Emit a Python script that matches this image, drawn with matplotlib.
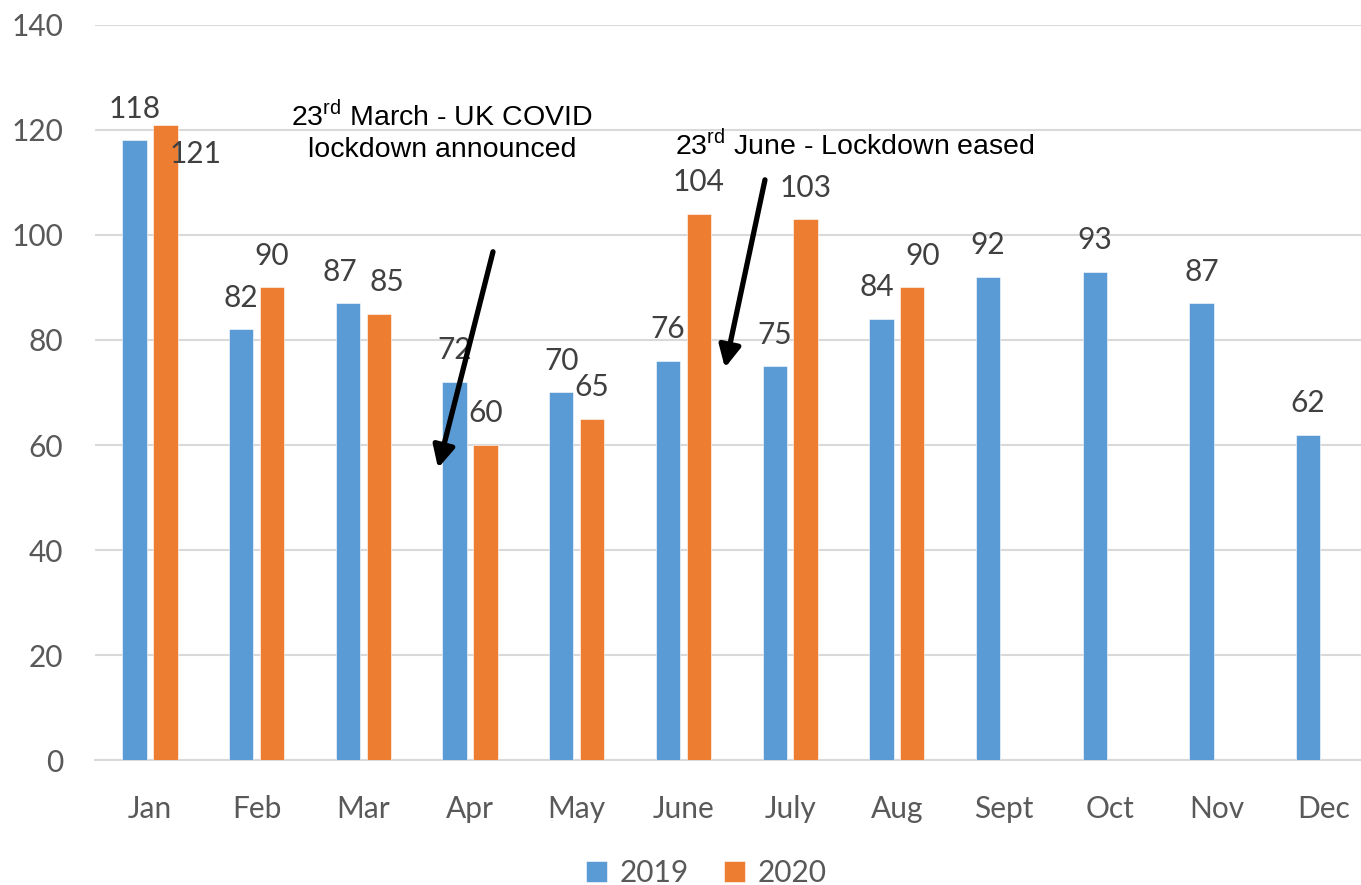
import matplotlib.pyplot as plt
import numpy as np

months = ['Jan', 'Feb', 'Mar', 'Apr', 'May', 'June', 'July', 'Aug', 'Sept', 'Oct', 'Nov', 'Dec']
y2019 = [118, 82, 87, 72, 70, 76, 75, 84, 92, 93, 87, 62]
y2020 = [121, 90, 85, 60, 65, 104, 103, 90]

note_march = ['23$^{\\mathrm{rd}}$ March - UK COVID', 'lockdown announced']
note_june = '23$^{\\mathrm{rd}}$ June - Lockdown eased'

blue = '#5B9BD5'
orange = '#ED7D31'
grey_text = '#595959'
label_text = '#404040'

plt.rcParams['font.family'] = ['Lato', 'DejaVu Sans']
plt.rcParams['mathtext.fontset'] = 'custom'
plt.rcParams['mathtext.rm'] = 'Liberation Sans'

fig = plt.figure(figsize=(13.61, 8.85), dpi=100)
ax = fig.add_axes([0.0698, 0.1412, 0.9302, 0.8306])

x = np.arange(len(months))
w = 0.228
off = 0.145
b1 = ax.bar(x - off, y2019, w, color=blue, edgecolor='white', linewidth=0.4, label='2019', zorder=3)
x20 = x[:len(y2020)]
b2 = ax.bar(x20 + off, y2020, w, color=orange, edgecolor='white', linewidth=0.4, label='2020', zorder=3)

# label nudges (x in category units, y in data units)
nudge19 = {2: (-0.075, 0), 7: (-0.047, 0)}
nudge20 = {0: (0.286, -11.5), 2: (0.075, 0), 7: (0.094, 0)}
for i, v in enumerate(y2019):
    dx, dy = nudge19.get(i, (0, 0))
    ax.text(i - off + dx, v + 6 + dy, str(v), ha='center', va='center',
            fontsize=21.5, color=label_text, zorder=4)
for i, v in enumerate(y2020):
    dx, dy = nudge20.get(i, (0, 0))
    ax.text(i + off + dx, v + 6 + dy, str(v), ha='center', va='center',
            fontsize=21.5, color=label_text, zorder=4)

ax.set_ylim(0, 140)
ax.set_xlim(-0.515, 11.35)
ax.set_yticks(range(0, 141, 20))
ax.set_xticks(x)
ax.set_xticklabels(months)
ax.tick_params(axis='both', length=0, labelsize=21.5, labelcolor=grey_text)
ax.tick_params(axis='x', pad=25)
ax.tick_params(axis='y', pad=23)
ax.grid(axis='y', color='#D9D9D9', linewidth=1.5, zorder=0)
for s in ['top', 'right', 'left']:
    ax.spines[s].set_visible(False)
ax.spines['bottom'].set_color('#D9D9D9')
ax.spines['bottom'].set_linewidth(1.5)

# annotations
ax.text(2.737, 122.5, note_march[0], ha='center', va='center', fontsize=20.5,
        family='Liberation Sans', color='black', zorder=5)
ax.text(2.737, 116.2, note_march[1], ha='center', va='center', fontsize=20.5,
        family='Liberation Sans', color='black', zorder=5)
ax.text(6.603, 117.0, note_june, ha='center', va='center', fontsize=20.5,
        family='Liberation Sans', color='black', zorder=5)

arrow_style = dict(arrowstyle='-|>,head_length=1.3,head_width=0.65', color='black', lw=3.8,
                   shrinkA=0, shrinkB=0)
ax.annotate('', xy=(2.70, 55.6), xytext=(3.215, 96.8), arrowprops=arrow_style, zorder=6)
ax.annotate('', xy=(5.389, 74.7), xytext=(5.764, 110.5), arrowprops=arrow_style, zorder=6)

leg = fig.legend(handles=[b1, b2], loc='center', bbox_to_anchor=(0.519, 0.0136), ncol=2,
                 frameon=False, fontsize=21.5, handlelength=0.7, handleheight=0.7,
                 handletextpad=0.4, columnspacing=1.2)
for t in leg.get_texts():
    t.set_color(grey_text)

fig.savefig('out.png', dpi=100)
